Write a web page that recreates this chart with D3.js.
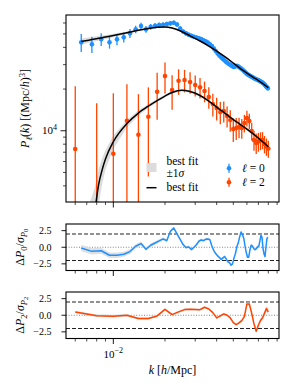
<!DOCTYPE html>
<html><head><meta charset="utf-8">
<script src="https://cdn.jsdelivr.net/npm/d3@7"></script>
<style>body{margin:0;background:#fff}svg{display:block}</style>
</head><body>
<svg id="c" width="294" height="392"></svg>
<script>
// ---------- data ----------
const k0 = [0.0065,0.0075,0.0085,0.0095,0.0105,0.0115,0.0125,0.0135,0.0145,0.0155,
  0.0165,0.0175,0.0185,0.0195,0.0205,0.0215,0.0225,0.0235,0.0245,0.0255,
  0.0265,0.0275,0.0285,0.0295,0.0305,0.0315,0.0325,0.0335,0.0345,0.0355,
  0.0365,0.0375,0.0385,0.0395,0.0405,0.0415,0.0425,0.0435,0.0445,0.0455,
  0.0465,0.0475,0.0485,0.0495,0.0505,0.0515,0.0525,0.0535,0.0545,0.0555,
  0.0565,0.0575,0.0585,0.0595,0.0605,0.0615,0.0625,0.0635,0.0645,0.0655,
  0.0665,0.0675,0.0685,0.0695,0.0705,0.0715,0.0725,0.0735,0.0745,0.0755,
  0.0765,0.0775,0.0785,0.0795];
const p0 = [43480,42060,45700,43480,45700,47250,50500,53980,57020,53980,
  56350,57300,57980,58260,58940,59640,60230,58460,54700,52040,
  50500,49340,48450,47640,47090,46470,45940,45030,44220,43340,
  42120,40890,39220,37630,36090,34910,33880,32940,32130,31330,
  30720,30160,29670,29170,28840,29220,29410,29070,28590,28120,
  27660,27070,26530,25960,25540,25240,24910,24620,24420,24100,
  23820,23620,23430,23230,23040,22850,22590,22360,22100,21740,
  21380,20920,20580,20230];
const e0 = [6400,5700,4800,4300,4200,3800,3800,3300,3200,3000,
  2700,2600,2500,2450,2400,2350,2300,2200,2100,2000,
  1900,1850,1800,1750,1700,1650,1600,1550,1500,1450,
  1400,1360,1320,1280,1240,1200,1170,1140,1110,1080,
  1050,1020,1000,980,960,940,920,900,880,860,
  840,820,800,790,780,770,760,750,740,730,
  720,710,700,690,680,670,660,650,640,630,
  620,615,610,600];
const k2 = [0.006,0.008,0.010,0.012,0.014,0.016,0.018,0.020,0.022,0.024,
  0.026,0.028,0.030,0.032,0.034,0.036,0.038,0.040,0.042,0.044,
  0.046,0.048,0.050,0.052,0.054,0.056,0.058,0.060,0.062,0.064,
  0.066,0.068,0.070,0.072,0.074,0.076,0.078,0.080];
const p2 = [7376,2900,6822,11810,9357,12620,19120,24830,19670,22960,
  23230,22470,21380,20580,19350,17510,15590,14580,13650,13880,
  12770,11950,10290,10460,10630,10460,11370,12350,11750,9950,
  8567,8150,8357,8494,8567,8017,7690,7437];
const e2 = [13600,12900,11800,9900,9000,7940,7100,6250,5500,4800,
  4300,4000,3700,3500,3300,3100,2900,2700,2500,2400,
  2200,2100,2000,1900,1800,1700,1650,1600,1500,1450,
  1400,1350,1300,1250,1200,1150,1100,1050];
// best fit
const kf = [0.0065,0.0072,0.0078,0.0082,0.0086,0.009,0.010,0.012,0.014,0.016,
  0.018,0.020,0.022,0.025,0.028,0.032,0.036,0.040,0.045,0.050,
  0.055,0.060,0.065,0.070,0.075,0.080];
const f0 = [44060,45100,45940,46470,47010,47480,48690,51000,53170,54790,
  55800,56080,55160,52040,48450,44440,40890,37630,34050,30820,
  28120,26100,24420,23040,21740,20510];
const b0 = [2200,2000,1900,1800,1700,1600,1400,1100,900,750,
  650,550,500,480,460,440,420,400,380,360,
  340,320,310,300,290,280];
const f2 = [null,1200,2600,4055,5202,6248,8329,11270,13420,15080,
  16530,17810,18870,19570,19190,17960,16390,14830,13310,12050,
  11090,10290,9545,8858,8219,7625];
const b2 = [null,1700,1300,1200,1100,1000,900,700,600,500,
  450,400,380,360,350,340,330,320,310,300,
  290,280,270,260,250,240];
// residuals (in sigma)
const r0 = [-0.12,-0.62,-0.53,-1.2,-1.2,-1.05,-0.65,0.15,0.55,-0.3,
  0.3,0.64,0.95,1.25,1.0,2.4,2.9,2.0,1.2,0.4,
  -0.05,0.05,-0.35,0.0,0.38,0.9,1.1,1.0,1.2,1.25,
  1.15,0.2,-0.5,-0.95,-1.3,-1.55,-1.85,-1.6,-1.4,-1.8,
  -2.2,-2.3,-2.7,-2.5,-1.6,-0.9,0.1,0.7,1.6,2.3,
  1.9,1.4,0.2,-0.8,-1.5,-1.5,-0.4,0.3,0.2,-0.1,
  -0.35,-0.3,-0.1,0.05,0.2,1.0,1.8,1.5,-0.2,-1.0,
  -1.4,0.0,1.3,1.5];
const rb0 = [0.5,0.48,0.45,0.42,0.4,0.38,0.35,0.33,0.3,0.28,
  0.26,0.25,0.24,0.23,0.22,0.22,0.21,0.21,0.2,0.2,
  0.2,0.2,0.2,0.2,0.2,0.2,0.2,0.2,0.2,0.2,
  0.2,0.2,0.2,0.2,0.2,0.2,0.2,0.2,0.2,0.2,
  0.2,0.2,0.2,0.2,0.2,0.2,0.2,0.2,0.2,0.2,
  0.2,0.2,0.2,0.2,0.2,0.2,0.2,0.22,0.22,0.22,
  0.22,0.22,0.24,0.24,0.24,0.24,0.25,0.25,0.26,0.26,
  0.27,0.28,0.28,0.3];
const r2 = [0.49,-0.07,-0.15,0.0,-0.5,-0.5,-0.1,0.89,0.1,0.5,
  0.85,0.92,0.88,0.84,1.2,0.95,0.4,-0.4,-0.1,0.2,
  0.0,-0.4,-1.1,-1.4,-1.15,-0.8,-0.2,1.7,1.7,0.3,
  -1.3,-2.4,-1.5,-0.8,-0.4,0.3,1.0,0.5];
const rb2 = [0.2,0.2,0.2,0.18,0.18,0.16,0.16,0.15,0.15,0.15,
  0.15,0.15,0.15,0.15,0.15,0.15,0.15,0.15,0.16,0.16,
  0.16,0.17,0.17,0.18,0.18,0.19,0.2,0.2,0.22,0.24,
  0.26,0.3,0.32,0.35,0.38,0.4,0.42,0.45];
const xMajor = [0.01];
const xMinor = [0.006,0.007,0.008,0.009,0.02,0.03,0.04,0.05,0.06,0.07,0.08,0.09];
const yMajor = [10000];
const yMinor = [4000,5000,6000,7000,8000,9000,20000,30000,40000,50000,60000];
const resTicks = [-2.5,0,2.5];
const resLines = [-2,2];

// ---------- layout ----------
const FONT = '"Liberation Serif","DejaVu Serif",serif';
const C0 = '#1e90ff', C2 = '#ff4500', BAND = '#dcdcdc';
const X0 = 66, X1 = 279;
const P = {top:15, bot:202}, R1 = {top:224, bot:270.5}, R2 = {top:292, bot:338.5};
const svg = d3.select('#c').style('font-family', FONT);
const x = d3.scaleLog().domain([0.0053,0.0923]).range([X0,X1]);
const y = d3.scaleLog().domain([3060,68500]).range([P.bot,P.top]);
const yr1 = d3.scaleLinear().domain([-3.5,3.5]).range([R1.bot,R1.top]);
const yr2 = d3.scaleLinear().domain([-3.5,3.5]).range([R2.bot,R2.top]);

const defs = svg.append('defs');
function clip(id, top, bot){
  defs.append('clipPath').attr('id',id).append('rect')
    .attr('x',X0).attr('y',top).attr('width',X1-X0).attr('height',bot-top);
  return svg.append('g').attr('clip-path',`url(#${id})`);
}

// ---------- main panel ----------
const gm = clip('cm', P.top, P.bot);
const fit = kf.map((k,i)=>({k, f0:f0[i], b0:b0[i], f2:f2[i], b2:b2[i]}));
const lo = v => Math.max(v, 100);
gm.append('path').datum(fit).attr('fill',BAND)
  .attr('d', d3.area().x(d=>x(d.k)).y0(d=>y(lo(d.f0-d.b0))).y1(d=>y(d.f0+d.b0)));
gm.append('path').datum(fit.filter(d=>d.f2!=null)).attr('fill',BAND)
  .attr('d', d3.area().x(d=>x(d.k)).y0(d=>y(lo(d.f2-d.b2))).y1(d=>y(d.f2+d.b2)));

function errbar(g, ks, ps, es, col){
  const d = ks.map((k,i)=>({k,p:ps[i],e:es[i]}));
  g.append('g').selectAll('line').data(d).join('line')
    .attr('x1',d=>x(d.k)).attr('x2',d=>x(d.k))
    .attr('y1',d=>y(lo(d.p-d.e))).attr('y2',d=>y(d.p+d.e))
    .attr('stroke',col).attr('stroke-width',1.3);
  g.append('g').selectAll('circle').data(d).join('circle')
    .attr('cx',d=>x(d.k)).attr('cy',d=>y(d.p)).attr('r',2.3).attr('fill',col);
}
errbar(gm, k2, p2, e2, C2);
errbar(gm, k0, p0, e0, C0);

gm.append('path').datum(fit).attr('fill','none').attr('stroke','#000').attr('stroke-width',1.5)
  .attr('d', d3.line().x(d=>x(d.k)).y(d=>y(d.f0)).curve(d3.curveMonotoneX));
gm.append('path').datum(fit.filter(d=>d.f2!=null)).attr('fill','none').attr('stroke','#000').attr('stroke-width',1.5)
  .attr('d', d3.line().x(d=>x(d.k)).y(d=>y(d.f2)).curve(d3.curveMonotoneX));

// ---------- residual panels ----------
function resPanel(id, R, ys, ks, rs, rbs, col){
  const g = clip(id, R.top, R.bot);
  g.append('line').attr('x1',X0).attr('x2',X1).attr('y1',ys(0)).attr('y2',ys(0))
    .attr('stroke','#777').attr('stroke-width',0.9).attr('stroke-dasharray','1,1.6');
  resLines.forEach(v=>g.append('line').attr('x1',X0).attr('x2',X1).attr('y1',ys(v)).attr('y2',ys(v))
    .attr('stroke','#222').attr('stroke-width',1.1).attr('stroke-dasharray','4,2'));
  const d = ks.map((k,i)=>({k,r:rs[i],w:rbs[i]}));
  g.append('path').datum(d).attr('fill',BAND).attr('opacity',0.9)
    .attr('d', d3.area().x(d=>x(d.k)).y0(d=>ys(d.r-d.w)).y1(d=>ys(d.r+d.w)));
  g.append('path').datum(d).attr('fill','none').attr('stroke',col).attr('stroke-width',1.5)
    .attr('stroke-linejoin','round').attr('d', d3.line().x(d=>x(d.k)).y(d=>ys(d.r)));
}
resPanel('cr1', R1, yr1, k0, r0, rb0, C0);
resPanel('cr2', R2, yr2, k2, r2, rb2, C2);

// ---------- axes ----------
function frame(top, bot){
  svg.append('rect').attr('x',X0).attr('y',top).attr('width',X1-X0).attr('height',bot-top)
    .attr('fill','none').attr('stroke','#000').attr('stroke-width',1.1);
}
function xticks(bot){
  const g = svg.append('g').attr('stroke','#000');
  xMinor.forEach(v=>g.append('line').attr('x1',x(v)).attr('x2',x(v)).attr('y1',bot).attr('y2',bot+3).attr('stroke-width',0.7));
  xMajor.forEach(v=>g.append('line').attr('x1',x(v)).attr('x2',x(v)).attr('y1',bot).attr('y2',bot+5.5).attr('stroke-width',0.9));
}
frame(P.top,P.bot); frame(R1.top,R1.bot); frame(R2.top,R2.bot);
xticks(P.bot); xticks(R1.bot); xticks(R2.bot);

// main y ticks
const gy = svg.append('g').attr('stroke','#000');
yMinor.forEach(v=>gy.append('line').attr('x1',X0-3).attr('x2',X0).attr('y1',y(v)).attr('y2',y(v)).attr('stroke-width',0.7));
yMajor.forEach(v=>gy.append('line').attr('x1',X0-5.5).attr('x2',X0).attr('y1',y(v)).attr('y2',y(v)).attr('stroke-width',0.9));
yMajor.forEach(v=>{
  const t = svg.append('text').attr('x',X0-9).attr('y',y(v)+3.6).attr('text-anchor','end').attr('font-size',11);
  t.append('tspan').text('10');
  t.append('tspan').text(Math.round(Math.log10(v))).attr('dy',-4.5).attr('font-size',8);
});
// residual y ticks
[[R1,yr1],[R2,yr2]].forEach(([R,ys])=>{
  resTicks.forEach(v=>{
    svg.append('line').attr('x1',X0-4.5).attr('x2',X0).attr('y1',ys(v)).attr('y2',ys(v)).attr('stroke','#000').attr('stroke-width',0.9);
    svg.append('text').attr('x',X0-14.5).attr('y',ys(v)+3.4).attr('text-anchor','end').attr('font-size',10)
      .text(v<0 ? '\u2212'+Math.abs(v).toFixed(1) : v.toFixed(1));
  });
});
// x tick label on bottom panel
xMajor.forEach(v=>{
  const t = svg.append('text').attr('x',x(v)).attr('y',R2.bot+19).attr('text-anchor','middle').attr('font-size',11);
  t.append('tspan').text('10');
  t.append('tspan').text('\u2212'+Math.abs(Math.round(Math.log10(v)))).attr('dy',-4.5).attr('font-size',8);
});

// axis labels
function rich(t, parts){
  parts.forEach(p=>{
    const s = t.append('tspan').text(p.t);
    if(p.i) s.attr('font-style','italic');
    if(p.dy) s.attr('dy',p.dy);
    if(p.fs) s.attr('font-size',p.fs);
  });
  return t;
}
rich(svg.append('text').attr('x',(X0+X1)/2).attr('y',374).attr('text-anchor','middle').attr('font-size',12),
  [{t:'k',i:1},{t:' [',},{t:'h',i:1},{t:'/Mpc]'}]);
rich(svg.append('text').attr('transform',`translate(29,${(P.top+P.bot)/2}) rotate(-90)`).attr('text-anchor','middle').attr('font-size',12),
  [{t:'P',i:1},{t:'\u2113',i:1,dy:2.5,fs:8.5},{t:'(',dy:-2.5},{t:'k',i:1},{t:') [(Mpc/'},{t:'h',i:1},{t:')'},{t:'3',dy:-4.5,fs:8.5},{t:']',dy:4.5}]);
[[R1,'0'],[R2,'2']].forEach(([R,l])=>{
  rich(svg.append('text').attr('transform',`translate(24,${(R.top+R.bot)/2}) rotate(-90)`).attr('text-anchor','middle').attr('font-size',12),
    [{t:'\u0394'},{t:'P',i:1},{t:l,dy:2.5,fs:8.5},{t:'/',dy:-2.5},{t:'\u03c3',i:1},{t:'P',i:1,dy:2.5,fs:8.5},{t:l,dy:1.5,fs:6.5}]);
});

// ---------- legend ----------
const lg = svg.append('g').attr('font-size',11.5);
lg.append('rect').attr('x',146.5).attr('y',163).attr('width',10).attr('height',9).attr('fill',BAND);
lg.append('line').attr('x1',146.5).attr('x2',156.5).attr('y1',187.7).attr('y2',187.7).attr('stroke','#000').attr('stroke-width',1.5);
lg.append('text').attr('x',166.5).attr('y',165).text('best fit');
lg.append('text').attr('x',166.5).attr('y',177).text('\u00b11').append('tspan').attr('font-style','italic').text('\u03c3');
lg.append('text').attr('x',166.5).attr('y',191).text('best fit');
[[168.3,C0,'0'],[182.3,C2,'2']].forEach(([yy,c,l])=>{
  lg.append('line').attr('x1',229).attr('x2',229).attr('y1',yy-4.5).attr('y2',yy+4.5).attr('stroke',c).attr('stroke-width',1.3);
  lg.append('circle').attr('cx',229).attr('cy',yy).attr('r',2.3).attr('fill',c);
  rich(lg.append('text').attr('x',242).attr('y',yy+3.8), [{t:'\u2113',i:1},{t:' = '+l}]);
});
</script>
</body></html>
